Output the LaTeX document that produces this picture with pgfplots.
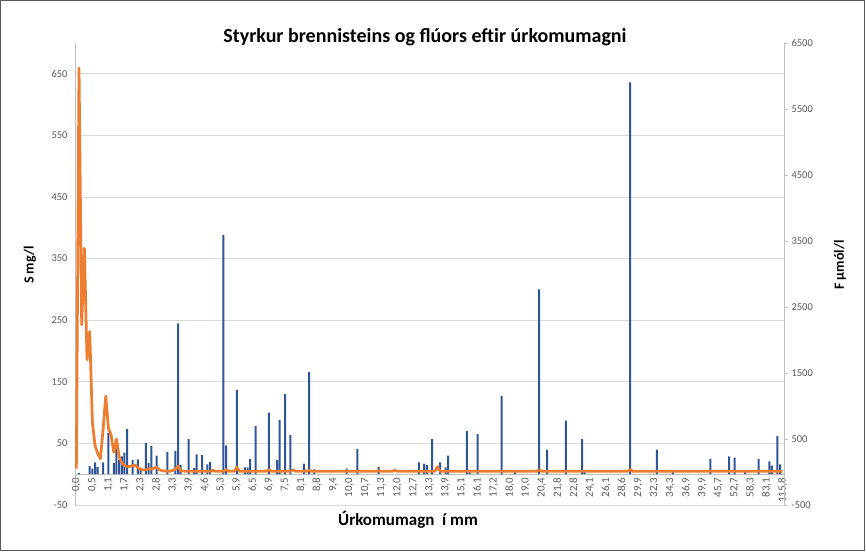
\documentclass[border=0pt]{standalone}
\usepackage{pgfplots}
\pgfplotsset{compat=1.18}
\usepackage{fontspec}
\setmainfont{Carlito}
\definecolor{barblue}{RGB}{47,85,151}
\definecolor{lineorange}{RGB}{237,125,49}
\definecolor{gridgray}{RGB}{217,217,217}
\definecolor{axisgray}{RGB}{191,191,191}
\definecolor{ticktext}{RGB}{89,89,89}
\begin{document}
\begin{tikzpicture}[x=1pt,y=1pt]
\useasboundingbox (0,0) rectangle (866,552);
\draw[color=black!65, line width=0.8pt] (0.5,1.5) rectangle (864,551.5);
\begin{axis}[
  at={(75pt,47pt)}, anchor=south west,
  scale only axis, width=709pt, height=462pt,
  xmin=-0.5, xmax=264.5, ymin=-50, ymax=700,
  axis y line*=left, axis x line*=middle,
  axis line style={draw=axisgray, line width=0.75pt},
  ytick={-50,50,150,250,350,450,550,650},
  ymajorgrids, major grid style={draw=gridgray, line width=0.75pt},
  ytick style={draw=none}, xtick style={draw=none},
  xtick={0,6,...,264},
  xticklabels={{0,0},{0,5},{1,1},{1,7},{2,3},{2,8},{3,3},{3,9},{4,6},{5,3},{5,9},{6,5},{6,9},{7,5},{8,1},{8,8},{9,4},{10,0},{10,7},{11,3},{12,0},{12,7},{13,3},{13,9},{15,1},{16,1},{17,2},{18,0},{19,0},{20,4},{21,8},{22,8},{24,1},{26,1},{28,6},{29,9},{32,3},{34,3},{36,9},{39,9},{45,7},{52,7},{58,3},{83,1},{115,8}},
  xticklabel style={rotate=90, anchor=east, font=\fontsize{11}{12}\selectfont, text=ticktext},
  yticklabel style={font=\fontsize{10.5}{12}\selectfont, text=ticktext, xshift=-4pt},
  /pgf/number format/assume math mode=true,
  /pgf/number format/1000 sep={},
]
\addplot[ybar, bar width=2pt, fill=barblue, draw=none] coordinates {
(1,2) (5,13) (6,9) (7,19) (8,12) (10,19) (12,67) (14,18) (15,55) (16,23) (17,29) (18,35) (19,73) (21,23) (23,24) (24,9) (26,51) (27,18) (28,46) (30,30) (34,36) (37,38) (38,245) (39,15) (42,57) (44,10) (45,32) (47,31) (49,16) (50,20) (55,388) (56,47) (60,137) (63,11) (64,11) (65,25) (67,78) (72,100) (75,23) (76,88) (78,130) (80,64) (85,17) (87,166) (89,8) (101,9) (105,41) (113,12) (128,19) (130,17) (131,15) (133,57) (136,19) (138,11) (139,30) (146,70) (147,5) (150,65) (159,127) (164,5) (173,300) (176,40) (183,87) (189,57) (190,5) (207,636) (217,40) (223,5) (237,25) (244,29) (246,27) (250,4) (255,25) (259,21) (260,14) (262,62) (263,16)
};
\end{axis}
\begin{axis}[
  at={(75pt,47pt)}, anchor=south west,
  scale only axis, width=709pt, height=462pt,
  xmin=-0.5, xmax=264.5, ymin=-500, ymax=6500,
  axis x line=none, axis y line*=right,
  axis line style={draw=axisgray, line width=0.75pt},
  ytick={-500,500,1500,2500,3500,4500,5500,6500},
  tick align=outside, major tick length=4pt,
  ytick style={draw=axisgray, line width=0.75pt},
  yticklabel style={font=\fontsize{10.5}{12}\selectfont, text=ticktext},
  /pgf/number format/assume math mode=true,
  /pgf/number format/1000 sep={},
]
\addplot[lineorange, line width=2.75pt, line join=round] coordinates {
(0,50) (1,6120) (2,2230) (3,3390) (4,1700) (5,2130) (6,750) (7,400) (8,280) (9,200) (10,650) (11,1150) (12,660) (13,560) (14,300) (15,500) (16,230) (17,140) (18,100) (19,80) (20,85) (21,95) (22,105) (23,65) (24,45) (25,30) (26,35) (27,50) (28,45) (29,60) (30,70) (31,35) (32,20) (33,15) (34,12) (35,10) (36,25) (37,40) (38,90) (39,20) (40,15) (41,10) (50,10) (51,25) (52,10) (55,10) (56,40) (57,10) (59,10) (60,70) (61,10) (71,10) (72,35) (73,10) (80,10) (81,35) (82,10) (86,10) (87,25) (88,10) (112,10) (113,20) (114,10) (118,10) (119,25) (120,10) (134,10) (135,80) (136,10) (172,10) (173,35) (174,10) (206,10) (207,40) (208,10) (264,10)
};
\end{axis}
\node[font=\bfseries\fontsize{20}{22}\selectfont] at (425,515) {Styrkur brennisteins og flúors eftir úrkomumagni};
\node[rotate=90, font=\bfseries\fontsize{14}{16}\selectfont] at (30,287) {S mg/l};
\node[rotate=90, font=\bfseries\fontsize{14}{16}\selectfont] at (840,287) {F µmól/l};
\node[font=\bfseries\fontsize{17}{19}\selectfont] at (408,32) {Úrkomumagn\ \ í mm};
\end{tikzpicture}
\end{document}
